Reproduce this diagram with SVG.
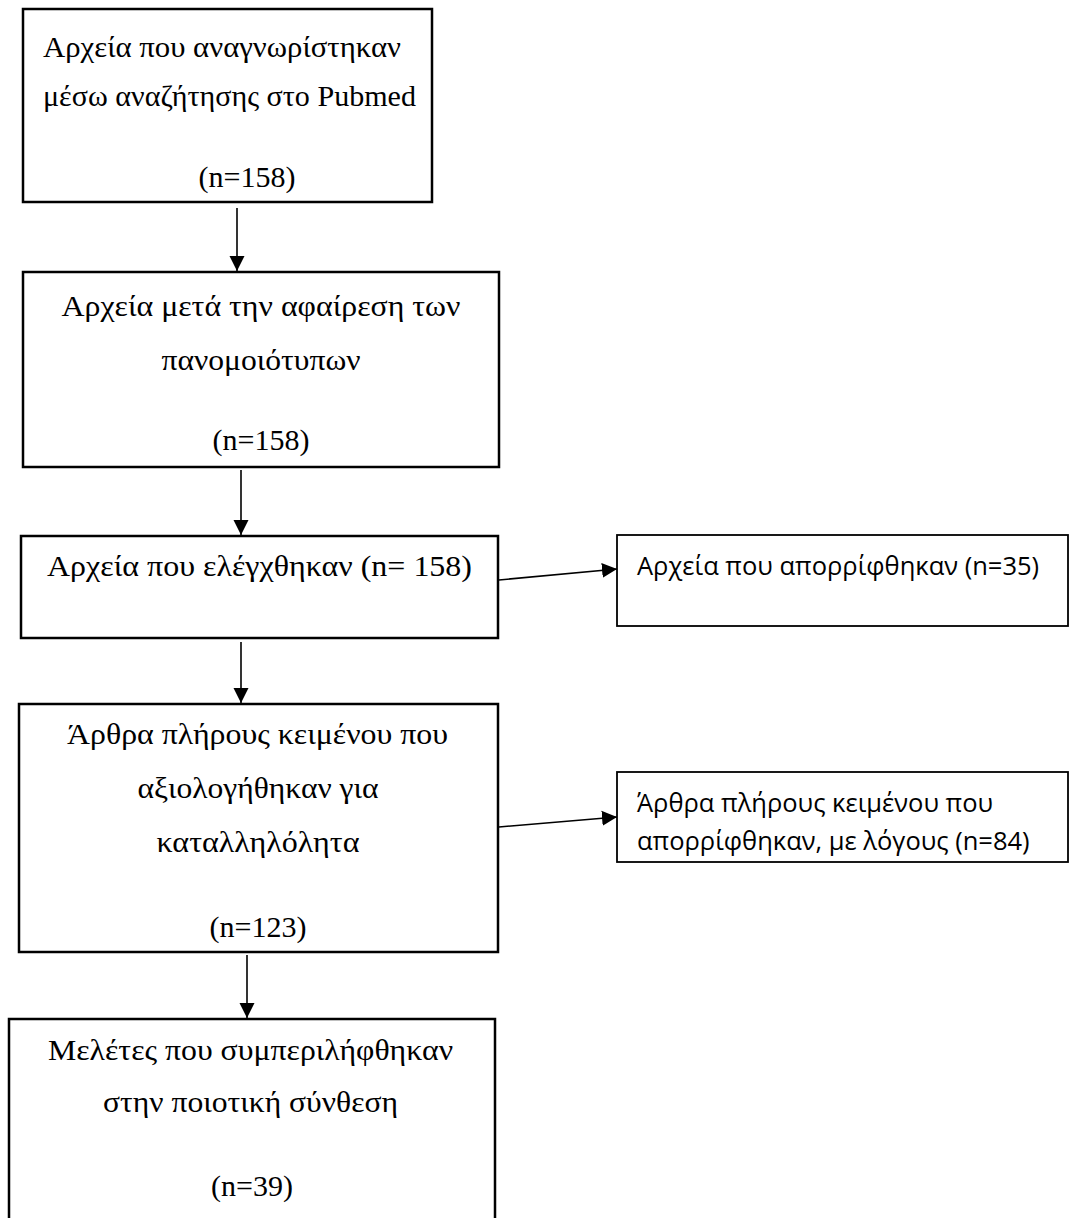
<svg xmlns="http://www.w3.org/2000/svg" width="1073" height="1218" viewBox="0 0 1073 1218">
<style>
.box{fill:#fff;stroke:#000;stroke-width:2.5}
.rbox{fill:#fff;stroke:#000;stroke-width:1.8}
.serif{font-family:"Liberation Serif","Times New Roman",serif;font-size:30px;fill:#000}
.num{font-family:"Liberation Serif","Times New Roman",serif;font-size:30px;fill:#000;text-anchor:middle}
.sans{font-family:"Open Sans","Noto Sans","DejaVu Sans",sans-serif;font-size:25.5px;fill:#000}
.conn{stroke:#000;stroke-width:1.6;fill:none;marker-end:url(#arr)}
</style>
<defs>
<marker id="arr" markerUnits="userSpaceOnUse" markerWidth="16" markerHeight="16" viewBox="0 0 16 16" refX="15" refY="8" orient="auto">
<path d="M0,0.5 L15,8 L0,15.5 Z" fill="#000"/>
</marker>
</defs>
<rect width="1073" height="1218" fill="#fff"/>
<g id="connectors">
<line class="conn" x1="237" y1="208" x2="237" y2="271"/>
<line class="conn" x1="241" y1="470" x2="241" y2="535"/>
<line class="conn" x1="241" y1="642" x2="241" y2="703"/>
<line class="conn" x1="247" y1="955" x2="247" y2="1018"/>
<line class="conn" x1="499" y1="580" x2="617" y2="569"/>
<line class="conn" x1="499" y1="827" x2="617" y2="817"/>
</g>
<g id="n1">
<rect class="box" x="23" y="9" width="409" height="193"/>
<text class="serif" x="43" y="57" textLength="358" lengthAdjust="spacingAndGlyphs">Αρχεία που αναγνωρίστηκαν</text>
<text class="serif" x="43" y="106" textLength="373" lengthAdjust="spacingAndGlyphs">μέσω αναζήτησης στο Pubmed</text>
<text class="num" x="247" y="187">(n=158)</text>
</g>
<g id="n2">
<rect class="box" x="23" y="272" width="476" height="195"/>
<text class="serif" x="61.5" y="316" textLength="399" lengthAdjust="spacingAndGlyphs">Αρχεία μετά την αφαίρεση των</text>
<text class="serif" x="161.5" y="370" textLength="199" lengthAdjust="spacingAndGlyphs">πανομοιότυπων</text>
<text class="num" x="261" y="450">(n=158)</text>
</g>
<g id="n3">
<rect class="box" x="21" y="536" width="477" height="102"/>
<text class="serif" x="47" y="576" textLength="425" lengthAdjust="spacingAndGlyphs">Αρχεία που ελέγχθηκαν (n= 158)</text>
</g>
<g id="n4">
<rect class="rbox" x="617" y="535" width="451" height="91"/>
<text class="sans" x="637" y="575">Αρχεία που απορρίφθηκαν (n=35)</text>
</g>
<g id="n5">
<rect class="box" x="19" y="704" width="479" height="248"/>
<text class="serif" x="67" y="744" textLength="381" lengthAdjust="spacingAndGlyphs">Άρθρα πλήρους κειμένου που</text>
<text class="serif" x="137.5" y="798" textLength="241" lengthAdjust="spacingAndGlyphs">αξιολογήθηκαν για</text>
<text class="serif" x="156.5" y="852" textLength="203" lengthAdjust="spacingAndGlyphs">καταλληλόλητα</text>
<text class="num" x="258" y="937">(n=123)</text>
</g>
<g id="n6">
<rect class="rbox" x="617" y="772" width="451" height="90"/>
<text class="sans" x="637" y="812">Άρθρα πλήρους κειμένου που</text>
<text class="sans" x="637" y="850">απορρίφθηκαν, με λόγους (n=84)</text>
</g>
<g id="n7">
<rect class="box" x="9" y="1019" width="486" height="220"/>
<text class="serif" x="48" y="1060" textLength="405" lengthAdjust="spacingAndGlyphs">Μελέτες που συμπεριλήφθηκαν</text>
<text class="serif" x="103" y="1112" textLength="295" lengthAdjust="spacingAndGlyphs">στην ποιοτική σύνθεση</text>
<text class="num" x="252" y="1196">(n=39)</text>
</g>
</svg>
